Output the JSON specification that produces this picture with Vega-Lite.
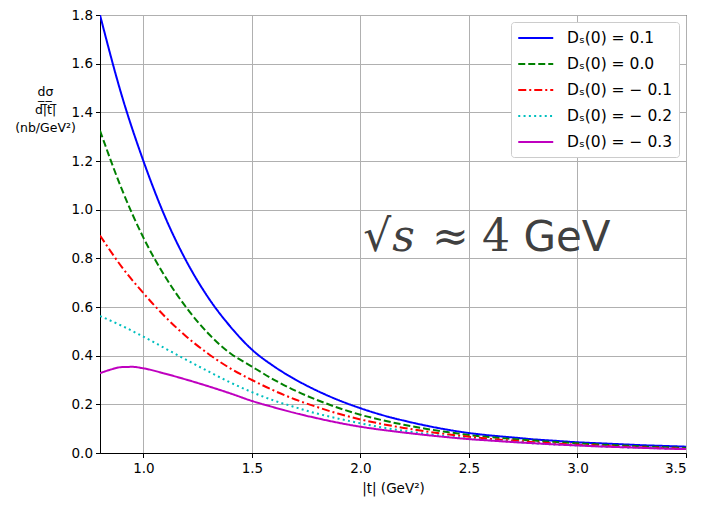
{
  "$schema": "https://vega.github.io/schema/vega-lite/v6.json",
  "width": 586,
  "height": 438,
  "autosize": {"type": "none"},
  "padding": {"left": 100, "top": 15, "right": 16, "bottom": 53},
  "config": {
    "font": "DejaVu Sans",
    "view": {"stroke": "black", "strokeWidth": 1},
    "axis": {
      "gridColor": "#b0b0b0", "gridWidth": 1, "domainColor": "black", "tickColor": "black",
      "tickSize": 4.5, "labelFont": "DejaVu Sans", "labelFontSize": 13.5, "labelColor": "black",
      "titleFont": "DejaVu Sans", "titleFontWeight": "normal", "titleFontSize": 13.5, "titleColor": "black"
    }
  },
  "layer": [
    {
      "data": {"values": [
        {"t":0.8,"v":1.80,"s":"Dₛ(0) = 0.1"},{"t":0.9,"v":1.47,"s":"Dₛ(0) = 0.1"},{"t":1.0,"v":1.20,"s":"Dₛ(0) = 0.1"},{"t":1.1,"v":0.97,"s":"Dₛ(0) = 0.1"},{"t":1.2,"v":0.785,"s":"Dₛ(0) = 0.1"},{"t":1.3,"v":0.637,"s":"Dₛ(0) = 0.1"},{"t":1.4,"v":0.52,"s":"Dₛ(0) = 0.1"},{"t":1.5,"v":0.425,"s":"Dₛ(0) = 0.1"},{"t":1.6,"v":0.357,"s":"Dₛ(0) = 0.1"},{"t":1.7,"v":0.302,"s":"Dₛ(0) = 0.1"},{"t":1.8,"v":0.256,"s":"Dₛ(0) = 0.1"},{"t":1.9,"v":0.217,"s":"Dₛ(0) = 0.1"},{"t":2.0,"v":0.184,"s":"Dₛ(0) = 0.1"},{"t":2.1,"v":0.156,"s":"Dₛ(0) = 0.1"},{"t":2.2,"v":0.133,"s":"Dₛ(0) = 0.1"},{"t":2.3,"v":0.113,"s":"Dₛ(0) = 0.1"},{"t":2.4,"v":0.096,"s":"Dₛ(0) = 0.1"},{"t":2.5,"v":0.082,"s":"Dₛ(0) = 0.1"},{"t":2.6,"v":0.072,"s":"Dₛ(0) = 0.1"},{"t":2.7,"v":0.064,"s":"Dₛ(0) = 0.1"},{"t":2.8,"v":0.056,"s":"Dₛ(0) = 0.1"},{"t":2.9,"v":0.050,"s":"Dₛ(0) = 0.1"},{"t":3.0,"v":0.044,"s":"Dₛ(0) = 0.1"},{"t":3.1,"v":0.040,"s":"Dₛ(0) = 0.1"},{"t":3.2,"v":0.036,"s":"Dₛ(0) = 0.1"},{"t":3.3,"v":0.032,"s":"Dₛ(0) = 0.1"},{"t":3.4,"v":0.029,"s":"Dₛ(0) = 0.1"},{"t":3.5,"v":0.026,"s":"Dₛ(0) = 0.1"},
        {"t":0.8,"v":1.325,"s":"Dₛ(0) = 0.0"},{"t":0.9,"v":1.085,"s":"Dₛ(0) = 0.0"},{"t":1.0,"v":0.885,"s":"Dₛ(0) = 0.0"},{"t":1.1,"v":0.725,"s":"Dₛ(0) = 0.0"},{"t":1.2,"v":0.595,"s":"Dₛ(0) = 0.0"},{"t":1.3,"v":0.49,"s":"Dₛ(0) = 0.0"},{"t":1.4,"v":0.41,"s":"Dₛ(0) = 0.0"},{"t":1.5,"v":0.355,"s":"Dₛ(0) = 0.0"},{"t":1.6,"v":0.302,"s":"Dₛ(0) = 0.0"},{"t":1.7,"v":0.256,"s":"Dₛ(0) = 0.0"},{"t":1.8,"v":0.218,"s":"Dₛ(0) = 0.0"},{"t":1.9,"v":0.185,"s":"Dₛ(0) = 0.0"},{"t":2.0,"v":0.157,"s":"Dₛ(0) = 0.0"},{"t":2.1,"v":0.135,"s":"Dₛ(0) = 0.0"},{"t":2.2,"v":0.116,"s":"Dₛ(0) = 0.0"},{"t":2.3,"v":0.100,"s":"Dₛ(0) = 0.0"},{"t":2.4,"v":0.086,"s":"Dₛ(0) = 0.0"},{"t":2.5,"v":0.074,"s":"Dₛ(0) = 0.0"},{"t":2.6,"v":0.065,"s":"Dₛ(0) = 0.0"},{"t":2.7,"v":0.058,"s":"Dₛ(0) = 0.0"},{"t":2.8,"v":0.051,"s":"Dₛ(0) = 0.0"},{"t":2.9,"v":0.045,"s":"Dₛ(0) = 0.0"},{"t":3.0,"v":0.040,"s":"Dₛ(0) = 0.0"},{"t":3.1,"v":0.035,"s":"Dₛ(0) = 0.0"},{"t":3.2,"v":0.031,"s":"Dₛ(0) = 0.0"},{"t":3.3,"v":0.027,"s":"Dₛ(0) = 0.0"},{"t":3.4,"v":0.024,"s":"Dₛ(0) = 0.0"},{"t":3.5,"v":0.021,"s":"Dₛ(0) = 0.0"},
        {"t":0.8,"v":0.894,"s":"Dₛ(0) = − 0.1"},{"t":0.9,"v":0.765,"s":"Dₛ(0) = − 0.1"},{"t":1.0,"v":0.657,"s":"Dₛ(0) = − 0.1"},{"t":1.1,"v":0.56,"s":"Dₛ(0) = − 0.1"},{"t":1.2,"v":0.477,"s":"Dₛ(0) = − 0.1"},{"t":1.3,"v":0.407,"s":"Dₛ(0) = − 0.1"},{"t":1.4,"v":0.348,"s":"Dₛ(0) = − 0.1"},{"t":1.5,"v":0.300,"s":"Dₛ(0) = − 0.1"},{"t":1.6,"v":0.257,"s":"Dₛ(0) = − 0.1"},{"t":1.7,"v":0.220,"s":"Dₛ(0) = − 0.1"},{"t":1.8,"v":0.189,"s":"Dₛ(0) = − 0.1"},{"t":1.9,"v":0.161,"s":"Dₛ(0) = − 0.1"},{"t":2.0,"v":0.138,"s":"Dₛ(0) = − 0.1"},{"t":2.1,"v":0.119,"s":"Dₛ(0) = − 0.1"},{"t":2.2,"v":0.103,"s":"Dₛ(0) = − 0.1"},{"t":2.3,"v":0.089,"s":"Dₛ(0) = − 0.1"},{"t":2.4,"v":0.077,"s":"Dₛ(0) = − 0.1"},{"t":2.5,"v":0.067,"s":"Dₛ(0) = − 0.1"},{"t":2.6,"v":0.058,"s":"Dₛ(0) = − 0.1"},{"t":2.7,"v":0.051,"s":"Dₛ(0) = − 0.1"},{"t":2.8,"v":0.044,"s":"Dₛ(0) = − 0.1"},{"t":2.9,"v":0.039,"s":"Dₛ(0) = − 0.1"},{"t":3.0,"v":0.034,"s":"Dₛ(0) = − 0.1"},{"t":3.1,"v":0.030,"s":"Dₛ(0) = − 0.1"},{"t":3.2,"v":0.026,"s":"Dₛ(0) = − 0.1"},{"t":3.3,"v":0.023,"s":"Dₛ(0) = − 0.1"},{"t":3.4,"v":0.020,"s":"Dₛ(0) = − 0.1"},{"t":3.5,"v":0.017,"s":"Dₛ(0) = − 0.1"},
        {"t":0.8,"v":0.563,"s":"Dₛ(0) = − 0.2"},{"t":0.9,"v":0.523,"s":"Dₛ(0) = − 0.2"},{"t":1.0,"v":0.478,"s":"Dₛ(0) = − 0.2"},{"t":1.1,"v":0.430,"s":"Dₛ(0) = − 0.2"},{"t":1.2,"v":0.382,"s":"Dₛ(0) = − 0.2"},{"t":1.3,"v":0.335,"s":"Dₛ(0) = − 0.2"},{"t":1.4,"v":0.290,"s":"Dₛ(0) = − 0.2"},{"t":1.5,"v":0.250,"s":"Dₛ(0) = − 0.2"},{"t":1.6,"v":0.216,"s":"Dₛ(0) = − 0.2"},{"t":1.7,"v":0.188,"s":"Dₛ(0) = − 0.2"},{"t":1.8,"v":0.162,"s":"Dₛ(0) = − 0.2"},{"t":1.9,"v":0.141,"s":"Dₛ(0) = − 0.2"},{"t":2.0,"v":0.122,"s":"Dₛ(0) = − 0.2"},{"t":2.1,"v":0.105,"s":"Dₛ(0) = − 0.2"},{"t":2.2,"v":0.091,"s":"Dₛ(0) = − 0.2"},{"t":2.3,"v":0.079,"s":"Dₛ(0) = − 0.2"},{"t":2.4,"v":0.068,"s":"Dₛ(0) = − 0.2"},{"t":2.5,"v":0.059,"s":"Dₛ(0) = − 0.2"},{"t":2.6,"v":0.052,"s":"Dₛ(0) = − 0.2"},{"t":2.7,"v":0.046,"s":"Dₛ(0) = − 0.2"},{"t":2.8,"v":0.040,"s":"Dₛ(0) = − 0.2"},{"t":2.9,"v":0.035,"s":"Dₛ(0) = − 0.2"},{"t":3.0,"v":0.031,"s":"Dₛ(0) = − 0.2"},{"t":3.1,"v":0.027,"s":"Dₛ(0) = − 0.2"},{"t":3.2,"v":0.024,"s":"Dₛ(0) = − 0.2"},{"t":3.3,"v":0.021,"s":"Dₛ(0) = − 0.2"},{"t":3.4,"v":0.019,"s":"Dₛ(0) = − 0.2"},{"t":3.5,"v":0.016,"s":"Dₛ(0) = − 0.2"},
        {"t":0.8,"v":0.328,"s":"Dₛ(0) = − 0.3"},{"t":0.85,"v":0.343,"s":"Dₛ(0) = − 0.3"},{"t":0.9,"v":0.353,"s":"Dₛ(0) = − 0.3"},{"t":0.95,"v":0.354,"s":"Dₛ(0) = − 0.3"},{"t":1.0,"v":0.348,"s":"Dₛ(0) = − 0.3"},{"t":1.1,"v":0.326,"s":"Dₛ(0) = − 0.3"},{"t":1.2,"v":0.301,"s":"Dₛ(0) = − 0.3"},{"t":1.3,"v":0.274,"s":"Dₛ(0) = − 0.3"},{"t":1.4,"v":0.245,"s":"Dₛ(0) = − 0.3"},{"t":1.5,"v":0.214,"s":"Dₛ(0) = − 0.3"},{"t":1.6,"v":0.188,"s":"Dₛ(0) = − 0.3"},{"t":1.7,"v":0.164,"s":"Dₛ(0) = − 0.3"},{"t":1.8,"v":0.143,"s":"Dₛ(0) = − 0.3"},{"t":1.9,"v":0.124,"s":"Dₛ(0) = − 0.3"},{"t":2.0,"v":0.108,"s":"Dₛ(0) = − 0.3"},{"t":2.1,"v":0.095,"s":"Dₛ(0) = − 0.3"},{"t":2.2,"v":0.084,"s":"Dₛ(0) = − 0.3"},{"t":2.3,"v":0.074,"s":"Dₛ(0) = − 0.3"},{"t":2.4,"v":0.065,"s":"Dₛ(0) = − 0.3"},{"t":2.5,"v":0.057,"s":"Dₛ(0) = − 0.3"},{"t":2.6,"v":0.051,"s":"Dₛ(0) = − 0.3"},{"t":2.7,"v":0.045,"s":"Dₛ(0) = − 0.3"},{"t":2.8,"v":0.040,"s":"Dₛ(0) = − 0.3"},{"t":2.9,"v":0.035,"s":"Dₛ(0) = − 0.3"},{"t":3.0,"v":0.031,"s":"Dₛ(0) = − 0.3"},{"t":3.1,"v":0.027,"s":"Dₛ(0) = − 0.3"},{"t":3.2,"v":0.024,"s":"Dₛ(0) = − 0.3"},{"t":3.3,"v":0.021,"s":"Dₛ(0) = − 0.3"},{"t":3.4,"v":0.018,"s":"Dₛ(0) = − 0.3"},{"t":3.5,"v":0.016,"s":"Dₛ(0) = − 0.3"}
      ]},
      "mark": {"type": "line", "strokeWidth": 2, "interpolate": "monotone", "clip": true},
      "encoding": {
        "x": {"field": "t", "type": "quantitative",
          "scale": {"domain": [0.8, 3.5], "nice": false, "zero": false},
          "axis": {"values": [1.0, 1.5, 2.0, 2.5, 3.0, 3.5], "format": ".1f", "title": "|t| (GeV²)", "labelPadding": 4, "titlePadding": 6}},
        "y": {"field": "v", "type": "quantitative",
          "scale": {"domain": [0, 1.8], "nice": false},
          "axis": {"values": [0, 0.2, 0.4, 0.6, 0.8, 1.0, 1.2, 1.4, 1.6, 1.8], "format": ".1f",
            "title": ["dσ", "d̅|̅t̅|̅", "(nb/GeV²)"], "titleAngle": 0, "titleX": -55, "titleY": 70,
            "titleAlign": "center", "titleBaseline": "top", "titleFontSize": 12.5, "titleLineHeight": 18, "labelPadding": 3}},
        "color": {"field": "s", "type": "nominal",
          "scale": {"domain": ["Dₛ(0) = 0.1", "Dₛ(0) = 0.0", "Dₛ(0) = − 0.1", "Dₛ(0) = − 0.2", "Dₛ(0) = − 0.3"],
            "range": ["#0000ff", "#008000", "#ff0000", "#00bfbf", "#bf00bf"]},
          "legend": {"title": null, "orient": "top-right", "offset": 7, "fillColor": "white", "strokeColor": "#cccccc",
            "cornerRadius": 3, "padding": 6, "symbolType": "M-1,0H3", "symbolSize": 306, "symbolStrokeWidth": 2,
            "labelFontSize": 15.5, "labelOffset": 30, "rowPadding": 7, "labelColor": "black"}},
        "strokeDash": {"field": "s", "type": "nominal",
          "scale": {"domain": ["Dₛ(0) = 0.1", "Dₛ(0) = 0.0", "Dₛ(0) = − 0.1", "Dₛ(0) = − 0.2", "Dₛ(0) = − 0.3"],
            "range": [[1, 0], [7, 3], [8, 3, 2, 3], [2, 3.3], [1, 0]]}}
      }
    },
    {
      "data": {"values": [{"t": 2.013, "v": 0.83, "label": "√"}, {"t": 2.33, "v": 0.83, "label": "≈"}, {"t": 2.56, "v": 0.83, "label": "4"}]},
      "mark": {"type": "text", "align": "left", "baseline": "alphabetic", "fontSize": 44, "font": "DejaVu Serif", "color": "#404040"},
      "encoding": {"x": {"field": "t", "type": "quantitative"}, "y": {"field": "v", "type": "quantitative"}, "text": {"field": "label"}}
    },
    {
      "data": {"values": [{"t": 2.146, "v": 0.83, "label": "s"}]},
      "mark": {"type": "text", "align": "left", "baseline": "alphabetic", "fontSize": 44, "font": "DejaVu Serif", "fontStyle": "italic", "color": "#404040"},
      "encoding": {"x": {"field": "t", "type": "quantitative"}, "y": {"field": "v", "type": "quantitative"}, "text": {"field": "label"}}
    },
    {
      "data": {"values": [{"t": 2.751, "v": 0.83, "label": "GeV"}]},
      "mark": {"type": "text", "align": "left", "baseline": "alphabetic", "fontSize": 42, "font": "DejaVu Sans", "color": "#404040"},
      "encoding": {"x": {"field": "t", "type": "quantitative"}, "y": {"field": "v", "type": "quantitative"}, "text": {"field": "label"}}
    }
  ]
}
